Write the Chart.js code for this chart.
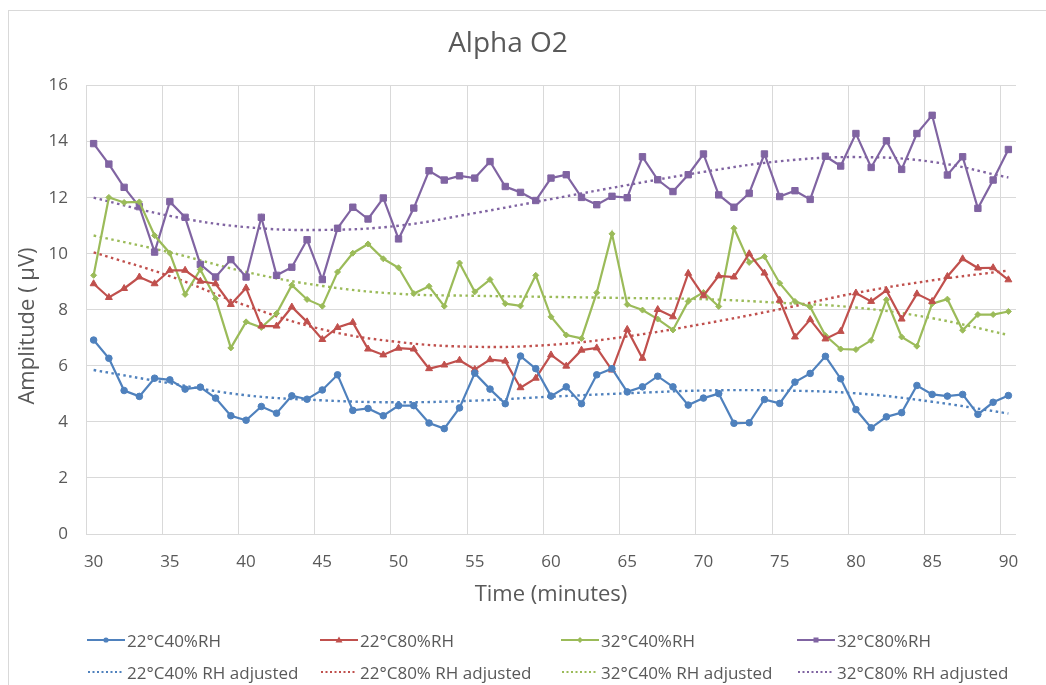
<!DOCTYPE html>
<html>
<head>
<meta charset="utf-8">
<title>Alpha O2</title>
<script src="https://cdn.jsdelivr.net/npm/chart.js@4.4.1/dist/chart.umd.min.js"></script>
<style>
    body { margin: 0; background: #fff; font-family: 'Open Sans', sans-serif; }
    #frame { position: absolute; left: 8px; top: 10px; width: 1046px; height: 685px;
             border-left: 1px solid #d9d9d9; border-top: 1px solid #d9d9d9; }
    #wrap { position: absolute; left: 0; top: 0; width: 1046px; height: 685px; }
    #legend { position: absolute; left: 87px; top: 624px; display: grid;
              grid-template-columns: 233px 241px 236px 236px; }
    .item { display: flex; align-items: center; height: 32px; font-size: 17px; color: #595959; white-space: nowrap; }
    .item svg { margin-right: 2px; flex: none; }
</style>
</head>
<body>
<div id="frame"></div>
<div id="wrap"><canvas id="alphaChart"></canvas></div>
<div id="legend"></div>

<script>
// minutes on the x axis
const tiempos = [30, 31, 32, 33, 34, 35, 36, 37, 38, 39, 40, 41, 42, 43, 44, 45, 46, 47, 48, 49, 50,
                 51, 52, 53, 54, 55, 56, 57, 58, 59, 60, 61, 62, 63, 64, 65, 66, 67, 68, 69, 70,
                 71, 72, 73, 74, 75, 76, 77, 78, 79, 80, 81, 82, 83, 84, 85, 86, 87, 88, 89, 90];

// measured amplitude (µV)
const c22rh40 = [6.92, 6.27, 5.12, 4.91, 5.56, 5.50, 5.17, 5.24, 4.85, 4.22, 4.06, 4.55, 4.31, 4.93, 4.81, 5.14, 5.68, 4.41, 4.48, 4.22, 4.58,
                 4.58, 3.96, 3.76, 4.50, 5.74, 5.17, 4.65, 6.35, 5.90, 4.92, 5.25, 4.65, 5.68, 5.90, 5.07, 5.25, 5.63, 5.25, 4.60, 4.85,
                 5.01, 3.95, 3.97, 4.80, 4.66, 5.42, 5.73, 6.34, 5.54, 4.44, 3.79, 4.18, 4.33, 5.30, 4.98, 4.92, 4.98, 4.27, 4.70, 4.94];
const c22rh80 = [8.93, 8.44, 8.76, 9.17, 8.93, 9.41, 9.41, 9.02, 8.93, 8.19, 8.78, 7.42, 7.42, 8.10, 7.57, 6.94, 7.37, 7.55, 6.60, 6.39, 6.63,
                 6.60, 5.90, 6.03, 6.20, 5.87, 6.22, 6.17, 5.22, 5.56, 6.39, 5.99, 6.56, 6.64, 5.85, 7.30, 6.27, 8.01, 7.75, 9.30, 8.50,
                 9.21, 9.17, 10.00, 9.31, 8.34, 7.03, 7.65, 6.96, 7.23, 8.60, 8.30, 8.69, 7.67, 8.57, 8.30, 9.19, 9.82, 9.49, 9.50, 9.07];
const c32rh40 = [9.23, 12.01, 11.83, 11.85, 10.65, 10.02, 8.55, 9.44, 8.40, 6.64, 7.57, 7.37, 7.87, 8.88, 8.37, 8.13, 9.35, 10.02, 10.35, 9.82, 9.50,
                 8.58, 8.84, 8.13, 9.67, 8.64, 9.08, 8.22, 8.14, 9.23, 7.75, 7.10, 6.98, 8.61, 10.71, 8.19, 7.99, 7.67, 7.28, 8.30, 8.62,
                 8.12, 10.91, 9.69, 9.90, 8.95, 8.30, 8.10, 7.08, 6.60, 6.58, 6.91, 8.36, 7.03, 6.70, 8.22, 8.38, 7.27, 7.83, 7.83, 7.94];
const c32rh80 = [13.93, 13.20, 12.37, 11.68, 10.06, 11.86, 11.30, 9.62, 9.17, 9.79, 9.17, 11.30, 9.23, 9.52, 10.50, 9.08, 10.91, 11.66, 11.24, 11.99, 10.53,
                 11.63, 12.96, 12.63, 12.78, 12.70, 13.29, 12.40, 12.19, 11.90, 12.70, 12.82, 12.01, 11.75, 12.05, 12.00, 13.46, 12.64, 12.22, 12.82, 13.56,
                 12.10, 11.66, 12.16, 13.56, 12.04, 12.25, 11.94, 13.48, 13.13, 14.29, 13.08, 14.03, 13.01, 14.29, 14.94, 12.81, 13.46, 11.62, 12.63, 13.72];

// fitted curves, read every 5 minutes
const tiemposAjuste = [30, 35, 40, 45, 50, 55, 60, 65, 70, 75, 80, 85, 90];
const aj22rh40 = [5.85, 5.38, 4.95, 4.77, 4.70, 4.76, 4.90, 5.02, 5.12, 5.12, 5.02, 4.72, 4.30];
const aj22rh80 = [10.05, 9.20, 8.15, 7.30, 6.85, 6.68, 6.75, 7.05, 7.50, 8.02, 8.60, 9.05, 9.40];
const aj32rh40 = [10.65, 10.05, 9.35, 8.85, 8.57, 8.50, 8.46, 8.42, 8.38, 8.25, 8.08, 7.70, 7.10];
const aj32rh80 = [12.00, 11.35, 10.95, 10.85, 11.00, 11.45, 11.95, 12.45, 12.92, 13.30, 13.45, 13.28, 12.72];

const yTicks = [0, 2, 4, 6, 8, 10, 12, 14, 16];

const AZUL = '#4f81bd', ROJO = '#c0504d', VERDE = '#9bbb59', MORADO = '#8064a2';
const GRIS_TEXTO = '#595959', GRIS_REJILLA = '#d9d9d9';

function serie(label, data, color, estilo, radio) {
    return {
        label, data,
        borderColor: color, backgroundColor: color,
        borderWidth: 2.2,
        pointStyle: estilo, pointRadius: radio,
        pointBorderWidth: 1,
        tension: 0
    };
}

function ajuste(label, valores, color) {
    return {
        label,
        data: tiemposAjuste.map((t, i) => ({ x: t, y: valores[i] })),
        borderColor: color,
        borderWidth: 2.4,
        borderDash: [2.5, 3.5],
        pointRadius: 0,
        tension: 0.4,
        fill: false,
        esAjuste: true
    };
}

const datasets = [
    serie('22°C40%RH', c22rh40, AZUL, 'circle', 3.3),
    serie('22°C80%RH', c22rh80, ROJO, 'triangle', 4),
    serie('32°C40%RH', c32rh40, VERDE, 'rectRot', 3),
    serie('32°C80%RH', c32rh80, MORADO, 'rect', 4.5),
    ajuste('22°C40% RH adjusted', aj22rh40, AZUL),
    ajuste('22°C80% RH adjusted', aj22rh80, ROJO),
    ajuste('32°C40% RH adjusted', aj32rh40, VERDE),
    ajuste('32°C80% RH adjusted', aj32rh80, MORADO)
];

// el título del eje Y va algo más abajo que el centro del área
const tituloEjeY = {
    id: 'tituloEjeY',
    afterDraw(chart) {
        const c = chart.ctx;
        c.save();
        c.translate(28, 326);
        c.rotate(-Math.PI / 2);
        c.font = '22px "Open Sans"';
        c.fillStyle = GRIS_TEXTO;
        c.textAlign = 'center';
        c.textBaseline = 'middle';
        c.fillText('Amplitude ( µV)', 0, 0);
        c.restore();
    }
};

const ctx = document.getElementById('alphaChart').getContext('2d');
const alphaChart = new Chart(ctx, {
    type: 'line',
    data: { labels: tiempos, datasets },
    plugins: [tituloEjeY],
    options: {
        responsive: true,
        maintainAspectRatio: false,
        animation: false,
        layout: { padding: { top: 27, left: 0, right: 30, bottom: 75 } },
        plugins: {
            legend: { display: false },
            tooltip: { enabled: false },
            title: {
                display: true,
                text: 'Alpha O2',
                color: GRIS_TEXTO,
                font: { family: 'Open Sans', size: 28, weight: 'normal' },
                padding: { top: 0, bottom: 25 }
            }
        },
        scales: {
            x: {
                type: 'category',
                offset: true,
                grid: {
                    offset: true,
                    drawTicks: false,
                    color: c => (c.index !== undefined && c.index % 5 === 0) ? GRIS_REJILLA : 'rgba(0,0,0,0)'
                },
                border: { display: false },
                ticks: {
                    autoSkip: false,
                    maxRotation: 0,
                    padding: 18,
                    color: GRIS_TEXTO,
                    font: { family: 'Open Sans', size: 17 },
                    callback: function (val, i) { return i % 5 === 0 ? this.getLabelForValue(val) : ''; }
                },
                title: {
                    display: true,
                    text: 'Time (minutes)',
                    color: GRIS_TEXTO,
                    font: { family: 'Open Sans', size: 22 },
                    padding: { top: 0, bottom: 2 }
                },
                afterFit: s => { s.height = 76; }
            },
            y: {
                min: 0,
                max: 16,
                afterBuildTicks: s => { s.ticks = yTicks.map(v => ({ value: v })); },
                grid: { color: GRIS_REJILLA, drawTicks: false },
                border: { display: false },
                ticks: {
                    padding: 18,
                    color: GRIS_TEXTO,
                    font: { family: 'Open Sans', size: 17 }
                },
                afterFit: s => { s.width = 86; }
            }
        }
    }
});

// leyenda en HTML, 4 columnas
function muestra(ds) {
    const c = ds.borderColor;
    if (ds.esAjuste) {
        return `<svg width="38" height="12"><line x1="1" y1="6" x2="37" y2="6" stroke="${c}" stroke-width="2" stroke-dasharray="2 2.5"/></svg>`;
    }
    let marca = '';
    if (ds.pointStyle === 'circle') marca = `<circle cx="19" cy="6" r="2.6" fill="${c}"/>`;
    if (ds.pointStyle === 'triangle') marca = `<polygon points="19,2.5 22.5,8.5 15.5,8.5" fill="${c}"/>`;
    if (ds.pointStyle === 'rectRot') marca = `<polygon points="19,3 22,6 19,9 16,6" fill="${c}"/>`;
    if (ds.pointStyle === 'rect') marca = `<rect x="16.5" y="3.5" width="5" height="5" fill="${c}"/>`;
    return `<svg width="38" height="12"><line x1="0" y1="6" x2="38" y2="6" stroke="${c}" stroke-width="2"/>${marca}</svg>`;
}

document.getElementById('legend').innerHTML = alphaChart.data.datasets.map(ds => `
    <div class="item">${muestra(ds)}<span>${ds.label}</span></div>
`).join('');
</script>
</body>
</html>
